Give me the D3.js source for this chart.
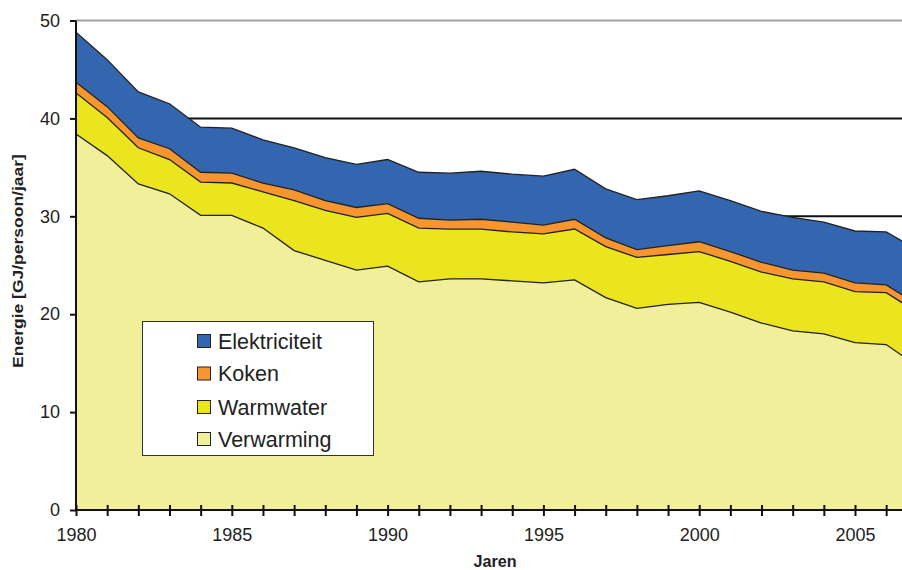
<!DOCTYPE html>
<html>
<head>
<meta charset="utf-8">
<script src="https://cdn.jsdelivr.net/npm/d3@7/dist/d3.min.js"></script>
<style>
  html, body { margin: 0; padding: 0; background: #fff; }
  svg { display: block; font-family: "Liberation Sans", Arial, sans-serif; }
</style>
</head>
<body>
<svg id="chart" width="902" height="570"></svg>
<script>
const years = [1980,1981,1982,1983,1984,1985,1986,1987,1988,1989,1990,1991,1992,1993,1994,1995,1996,1997,1998,1999,2000,2001,2002,2003,2004,2005,2006,2007];
const verwarming = [38.4,36.2,33.3,32.3,30.1,30.1,28.8,26.5,25.5,24.5,24.9,23.3,23.6,23.6,23.4,23.2,23.5,21.7,20.6,21.0,21.2,20.2,19.1,18.3,18.0,17.1,16.9,14.7];
const warmwater = [4.2,3.9,3.7,3.5,3.4,3.3,3.7,5.1,5.1,5.4,5.4,5.5,5.1,5.1,5.0,5.0,5.2,5.2,5.2,5.1,5.2,5.2,5.2,5.3,5.3,5.2,5.3,5.5];
const koken = [1.1,1.1,1.0,1.1,1.0,1.0,0.9,1.1,1.0,1.0,1.0,1.0,0.9,1.0,1.0,0.9,1.0,0.9,0.8,0.9,1.0,1.0,1.0,0.9,0.9,0.9,0.8,0.8];
const elektriciteit = [5.1,4.8,4.7,4.6,4.6,4.6,4.4,4.3,4.4,4.4,4.5,4.7,4.8,4.9,4.9,5.0,5.1,5.0,5.1,5.1,5.2,5.2,5.2,5.4,5.2,5.3,5.4,5.6];
const seriesNames = ["Verwarming","Warmwater","Koken","Elektriciteit"];
const seriesColors = ["#f2ef9a","#eae51e","#f7962f","#3465af"];
const yTicks = [0,10,20,30,40,50];
const xLabelYears = [1980,1985,1990,1995,2000,2005];

const svg = d3.select("#chart");
const x = d3.scaleLinear().domain([1980, 2007]).range([76, 76 + 27 * 31.16]);
const y = d3.scaleLinear().domain([0, 50]).range([510, 20.5]);

const rows = years.map((yr, i) => ({
  year: yr,
  Verwarming: verwarming[i],
  Warmwater: warmwater[i],
  Koken: koken[i],
  Elektriciteit: elektriciteit[i]
}));
const stacked = d3.stack().keys(seriesNames)(rows);

svg.append("defs").append("clipPath").attr("id", "plotclip")
  .append("rect").attr("x", 76).attr("y", 0).attr("width", 826).attr("height", 511);

// gridlines
const grid = svg.append("g");
yTicks.filter(t => t > 0).forEach(t => {
  grid.append("line")
    .attr("x1", 76).attr("x2", 902)
    .attr("y1", y(t)).attr("y2", y(t))
    .attr("stroke", t === 50 ? "#a0a0a0" : "#111")
    .attr("stroke-width", 2);
});

const plot = svg.append("g").attr("clip-path", "url(#plotclip)");
const area = d3.area().x(d => x(d.data.year)).y0(d => y(d[0])).y1(d => y(d[1]));
const topLine = d3.line().x(d => x(d.data.year)).y(d => y(d[1]));

plot.selectAll("path.area").data(stacked).join("path")
  .attr("class", "area")
  .attr("d", area)
  .attr("fill", (d, i) => seriesColors[i]);

plot.selectAll("path.top").data(stacked).join("path")
  .attr("class", "top")
  .attr("d", topLine)
  .attr("fill", "none")
  .attr("stroke", "#222")
  .attr("stroke-width", 1.3);

// y axis
const yAxis = svg.append("g").attr("transform", "translate(76,0)")
  .call(d3.axisLeft(y).tickValues(yTicks).tickSize(6).tickPadding(10).tickFormat(d3.format("d")));
yAxis.select(".domain").attr("stroke", "#111").attr("stroke-width", 2).attr("d", `M0,${y(50)}V${y(0)}`);
yAxis.selectAll(".tick line").attr("stroke", "#111").attr("stroke-width", 2);
yAxis.selectAll(".tick text").attr("font-size", 18).attr("fill", "#222")
  .attr("font-family", "Liberation Sans, Arial, sans-serif");

// x axis
const xAxis = svg.append("g").attr("transform", "translate(0,510)")
  .call(d3.axisBottom(x).tickValues(years.filter(v => v <= 2006)).tickSize(6).tickPadding(12)
    .tickFormat(d => xLabelYears.includes(d) ? String(d) : ""));
xAxis.select(".domain").attr("stroke", "#111").attr("stroke-width", 2).attr("d", "M76,0H902");
xAxis.selectAll(".tick line").attr("stroke", "#111").attr("stroke-width", 2).attr("y1", -5).attr("y2", 6);
xAxis.selectAll(".tick text").attr("font-size", 18).attr("fill", "#222")
  .attr("font-family", "Liberation Sans, Arial, sans-serif");

// axis titles
svg.append("text")
  .attr("transform", "translate(23,261) scale(0.85,1) rotate(-90)")
  .attr("text-anchor", "middle")
  .attr("font-size", 17.5).attr("font-weight", "bold").attr("fill", "#222")
  .text("Energie [GJ/persoon/jaar]");
svg.append("text")
  .attr("transform", "translate(495,567) scale(0.95,1)")
  .attr("text-anchor", "middle")
  .attr("font-size", 17).attr("font-weight", "bold").attr("fill", "#222")
  .text("Jaren");

// legend
const legend = svg.append("g");
legend.append("rect")
  .attr("x", 142.5).attr("y", 321.5).attr("width", 231).attr("height", 134)
  .attr("fill", "#fff").attr("stroke", "#333").attr("stroke-width", 1);
const legendOrder = [3, 2, 1, 0];
const rowY = [341, 373.5, 407, 439];
legendOrder.forEach((si, k) => {
  legend.append("rect")
    .attr("x", 197.5).attr("y", rowY[k] - 6.5).attr("width", 13).attr("height", 13)
    .attr("fill", seriesColors[si]).attr("stroke", "#222").attr("stroke-width", 1);
  legend.append("text")
    .attr("x", 218).attr("y", rowY[k] + 7.5)
    .attr("font-size", 21.5).attr("fill", "#222")
    .text(seriesNames[si]);
});
</script>
</body>
</html>
